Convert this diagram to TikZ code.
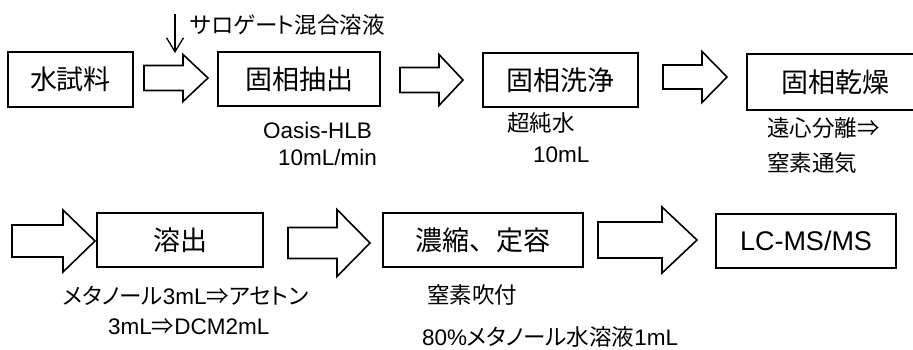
\documentclass[tikz,border=0pt]{standalone}
\usepackage{fontspec}
\setmainfont{Liberation Sans}
\newfontfamily\jp{Noto Sans CJK JP}
\newfontfamily\jpp{Noto Sans CJK JP}[RawFeature=+palt]
\usetikzlibrary{arrows.meta}
\tikzset{
  stepbox/.style={draw=black, line width=1.6pt, inner sep=0pt, fill=white,
    font=\fontsize{27}{30}\selectfont},
  blockarr/.style={draw=black, line width=1.6pt, line join=miter, fill=white},
  note/.style={inner sep=0pt, anchor=west, font=\fontsize{22.5}{26}\selectfont},
}
\newcommand\blockarrow[6]{% x0, x1, x2, yc, shaft half, head half
  \draw[blockarr] (#1,#4-#5) -- (#2,#4-#5) -- (#2,#4-#6) -- (#3,#4)
    -- (#2,#4+#6) -- (#2,#4+#5) -- (#1,#4+#5) -- cycle;}
\begin{document}
\begin{tikzpicture}[x=1pt,y=-1pt]
\useasboundingbox (0,0) rectangle (913,349);
\clip (0,0) rectangle (913,349);
\fill[white] (0,0) rectangle (913,349);
% row 1 boxes
\node[stepbox, minimum width=125pt, minimum height=55pt] (b1) at (70.5,79.5) {\jp 水試料};
\node[stepbox, minimum width=162pt, minimum height=54pt] (b2) at (299,79) {\jp 固相抽出};
\node[stepbox, minimum width=155pt, minimum height=54pt] (b3) at (560.5,80) {\jp 固相洗浄};
\node[stepbox, minimum width=176pt, minimum height=56pt] (b4) at (835,82) {\jp 固相乾燥};
% row 2 boxes
\node[stepbox, minimum width=166pt, minimum height=54pt] (b5) at (180,240) {\jp 溶出};
\node[stepbox, minimum width=200pt, minimum height=54pt] (b6) at (483,240) {\jp 濃縮、定容};
\node[stepbox, minimum width=180pt, minimum height=54pt] (b7) at (806,241) {LC-MS/MS};
% block arrows
\blockarrow{144}{183}{208}{78}{12.5}{23.5}
\blockarrow{400}{439}{463}{80}{12.5}{25.5}
\blockarrow{663}{702}{727}{77}{12}{25.5}
\blockarrow{12}{63}{95}{241}{16}{31}
\blockarrow{288}{337}{370}{243}{15.5}{33.5}
\blockarrow{598}{662}{697}{240}{18}{33}
% surrogate arrow
\coordinate (s0) at (175,14);
\coordinate (s1) at (175,53);
\draw[line width=1.3pt, -{Straight Barb[length=14pt,width=17pt,line width=1.3pt]}] (s0) -- (s1);
\node[note] (n0) at (190,25) {\jpp サロゲート混合溶液};
% notes
\node[note] (n1) at (263,130) {Oasis-HLB};
\node[note] (n2) at (278,157) {10mL/min};
\node[note] (n3) at (507,123) {\jpp 超純水};
\node[note] (n4) at (533,155) {10mL};
\node[note] (n5) at (767,128) {\jpp 遠心分離⇒};
\node[note] (n6) at (767,163) {\jpp 窒素通気};
\node[note] (n7) at (63,296) {{\jpp メタノール}3mL{\jpp ⇒アセトン}};
\node[note] (n8) at (108,327) {3mL{\jpp ⇒}DCM2mL};
\node[note] (n9) at (427,295) {\jpp 窒素吹付};
\node[note] (n10) at (422,337) {80\%{\jpp メタノール水溶液}1mL};
\end{tikzpicture}
\end{document}
